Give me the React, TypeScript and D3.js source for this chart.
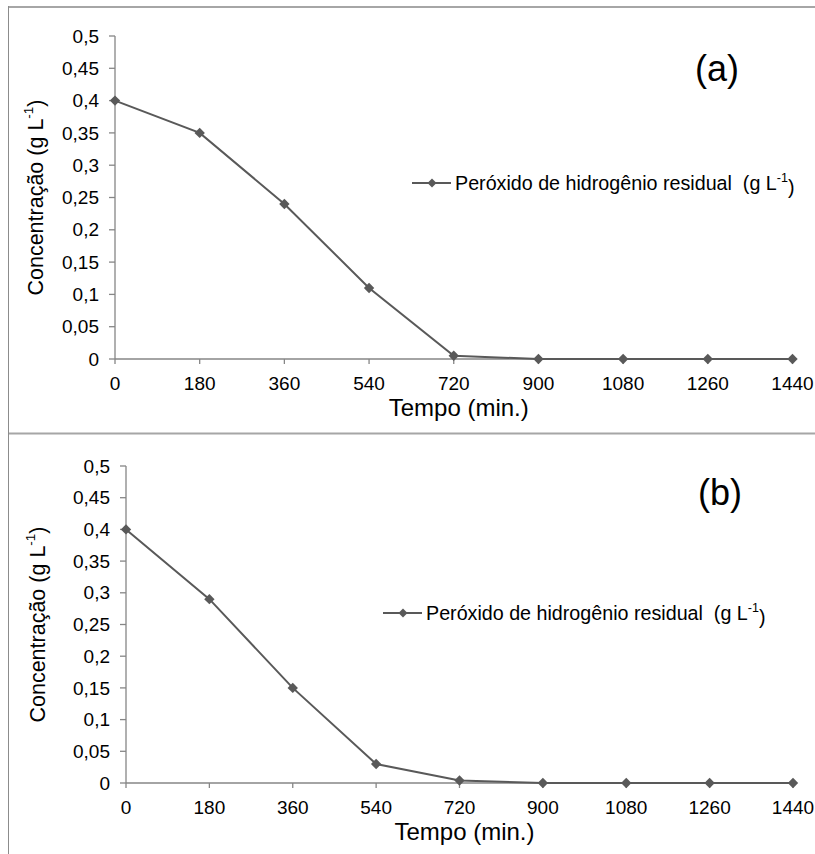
import React from "react";
import * as d3 from "d3";

const times = [0, 180, 360, 540, 720, 900, 1080, 1260, 1440];
const seriesA = [0.4, 0.35, 0.24, 0.11, 0.005, 0, 0, 0, 0];
const seriesB = [0.4, 0.29, 0.15, 0.03, 0.004, 0, 0, 0, 0];
const yTicks = [0, 0.05, 0.1, 0.15, 0.2, 0.25, 0.3, 0.35, 0.4, 0.45, 0.5];
const panelLabels = ["(a)", "(b)"];
const legendText = "Peróxido de hidrogênio residual  (g L";
const xTitle = "Tempo (min.)";
const yTitle = "Concentração (g L";

const FONT = "'Liberation Sans', Arial, sans-serif";
const AXIS = "#868686";
const LINE = "#595959";

type PanelProps = {
  data: number[];
  label: string;
  x0: number;
  x1: number;
  yTop: number;
  yBot: number;
  legX: number;
  legY: number;
  labX: number;
  labY: number;
  yTitleX: number;
};

function fmt(v: number) {
  return d3.format(".2~f")(v).replace(".", ",");
}

function Panel(p: PanelProps) {
  const x = d3.scaleLinear().domain([0, 1440]).range([p.x0, p.x1]);
  const y = d3.scaleLinear().domain([0, 0.5]).range([p.yBot, p.yTop]);
  const line = d3
    .line<number>()
    .x((_, i) => x(times[i]))
    .y((d) => y(d));
  const diamond = (cx: number, cy: number, r = 5.2) =>
    `M${cx},${cy - r}L${cx + r},${cy}L${cx},${cy + r}L${cx - r},${cy}Z`;
  const midY = (p.yTop + p.yBot) / 2;
  return (
    <g fontFamily={FONT}>
      {/* y axis */}
      <line x1={p.x0} x2={p.x0} y1={p.yTop} y2={p.yBot} stroke={AXIS} strokeWidth={1.3} />
      {yTicks.map((t) => (
        <g key={t}>
          <line x1={p.x0 - 6} x2={p.x0} y1={y(t)} y2={y(t)} stroke={AXIS} strokeWidth={1.3} />
          <text x={p.x0 - 16} y={y(t)} dy="0.35em" textAnchor="end" fontSize={19} fill="#000">
            {fmt(t)}
          </text>
        </g>
      ))}
      {/* x axis */}
      <line x1={p.x0} x2={p.x1} y1={p.yBot} y2={p.yBot} stroke={AXIS} strokeWidth={1.3} />
      {times.map((t) => (
        <g key={t}>
          <line x1={x(t)} x2={x(t)} y1={p.yBot} y2={p.yBot + 5} stroke={AXIS} strokeWidth={1.3} />
          <text x={x(t)} y={p.yBot + 24} dy="0.35em" textAnchor="middle" fontSize={19} fill="#000">
            {t}
          </text>
        </g>
      ))}
      <text x={(p.x0 + p.x1) / 2 + 5} y={p.yBot + 49} dy="0.35em" textAnchor="middle" fontSize={24} fill="#000">
        {xTitle}
      </text>
      <text
        transform={`translate(${p.yTitleX},${midY}) rotate(-90)`}
        textAnchor="middle"
        dy="0.35em"
        fontSize={21.5}
        fill="#000"
      >
        {yTitle}
        <tspan fontSize={13.5} dy="-0.7em">-1</tspan>
        <tspan dy="0.45em">)</tspan>
      </text>
      {/* series */}
      <path d={line(p.data) || ""} fill="none" stroke={LINE} strokeWidth={2} />
      {p.data.map((d, i) => (
        <path key={i} d={diamond(x(times[i]), y(d))} fill={LINE} />
      ))}
      {/* legend */}
      <line x1={p.legX} x2={p.legX + 39} y1={p.legY} y2={p.legY} stroke={LINE} strokeWidth={2} />
      <path d={diamond(p.legX + 20, p.legY, 4.5)} fill={LINE} />
      <text
        x={p.legX + 43}
        y={p.legY}
        dy="0.35em"
        fontSize={19.7}
        fill="#000"
        style={{ whiteSpace: "pre" }}
        xmlSpace="preserve"
      >
        {legendText}
        <tspan fontSize={12.5} dy="-0.6em">-1</tspan>
        <tspan dy="0.6em">)</tspan>
      </text>
      <text x={p.labX} y={p.labY} dy="0.35em" textAnchor="middle" fontSize={36} fill="#000">
        {p.label}
      </text>
    </g>
  );
}

export default function App() {
  return (
    <svg
      width={815}
      height={854}
      style={{ position: "absolute", left: 0, top: 0, background: "#fff" }}
    >
      <rect x={0} y={0} width={815} height={854} fill="#fff" />
      {/* panel borders */}
      <line x1={8} x2={815} y1={7} y2={7} stroke="#a6a6a6" strokeWidth={2} />
      <line x1={8} x2={815} y1={433.5} y2={433.5} stroke="#a6a6a6" strokeWidth={2} />
      <line x1={8.5} x2={8.5} y1={6} y2={854} stroke="#8c8c8c" strokeWidth={1} />
      <Panel
        data={seriesA}
        label={panelLabels[0]}
        x0={115}
        x1={792.5}
        yTop={36}
        yBot={359}
        legX={412}
        legY={183}
        labX={717}
        labY={68}
        yTitleX={35}
      />
      <Panel
        data={seriesB}
        label={panelLabels[1]}
        x0={126}
        x1={793}
        yTop={466}
        yBot={783}
        legX={383}
        legY={613}
        labX={720}
        labY={492}
        yTitleX={37}
      />
    </svg>
  );
}
